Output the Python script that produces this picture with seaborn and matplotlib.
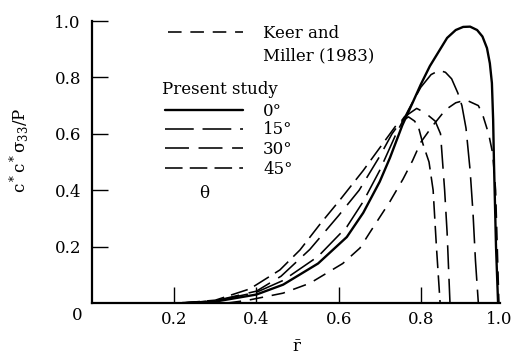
import matplotlib
matplotlib.use("Agg")
import matplotlib.pyplot as plt
import matplotlib.transforms as mtransforms
import seaborn as sns
import pandas as pd
from matplotlib.lines import Line2D

# ---- data ----
r_keer = [0.33, 0.38, 0.465, 0.53, 0.61, 0.652, 0.676, 0.725, 0.757, 0.78, 0.80, 0.827,
          0.86, 0.885, 0.91, 0.94, 0.95, 0.965, 0.975, 0.982, 0.986, 0.99]
s_keer = [0.0, 0.01, 0.035, 0.07, 0.14, 0.195, 0.25, 0.36, 0.44, 0.505, 0.57, 0.625,
          0.685, 0.71, 0.72, 0.70, 0.67, 0.60, 0.53, 0.40, 0.20, 0.0]

r_0 = [0.22, 0.30, 0.40, 0.465, 0.55, 0.62, 0.66, 0.70, 0.725, 0.755, 0.78, 0.80, 0.822,
       0.864, 0.885, 0.903, 0.92, 0.937, 0.95, 0.961, 0.968, 0.973, 0.976, 0.978, 0.983, 0.988]
s_0 = [0.0, 0.005, 0.03, 0.065, 0.14, 0.234, 0.32, 0.43, 0.515, 0.63, 0.71, 0.775, 0.84,
       0.94, 0.968, 0.979, 0.98, 0.968, 0.945, 0.904, 0.85, 0.78, 0.65, 0.50, 0.20, 0.0]

r_15 = [0.22, 0.30, 0.40, 0.465, 0.55, 0.62, 0.66, 0.70, 0.74, 0.77, 0.80, 0.825, 0.845,
        0.86, 0.875, 0.89, 0.90, 0.91, 0.92, 0.927, 0.933, 0.94]
s_15 = [0.0, 0.007, 0.038, 0.08, 0.165, 0.27, 0.36, 0.47, 0.60, 0.685, 0.765, 0.81, 0.825,
        0.818, 0.795, 0.745, 0.70, 0.62, 0.47, 0.32, 0.15, 0.0]

r_30 = [0.22, 0.30, 0.40, 0.46, 0.53, 0.60, 0.65, 0.70, 0.73, 0.76, 0.79, 0.81, 0.835,
        0.848, 0.853, 0.858, 0.864, 0.871]
s_30 = [0.0, 0.008, 0.042, 0.095, 0.19, 0.31, 0.40, 0.52, 0.60, 0.66, 0.69, 0.675, 0.645,
        0.60, 0.50, 0.40, 0.25, 0.0]

r_45 = [0.22, 0.30, 0.384, 0.457, 0.506, 0.555, 0.603, 0.66, 0.70, 0.74, 0.77, 0.785,
        0.795, 0.805, 0.82, 0.83, 0.838, 0.847]
s_45 = [0.0, 0.01, 0.05, 0.117, 0.188, 0.28, 0.365, 0.47, 0.55, 0.63, 0.66, 0.645,
        0.62, 0.565, 0.50, 0.40, 0.20, 0.0]

x_ticks = [0.2, 0.4, 0.6, 0.8, 1.0]
x_ticklabels = ["0.2", "0.4", "0.6", "0.8", "1.0"]
y_ticks = [0.2, 0.4, 0.6, 0.8, 1.0]
y_ticklabels = ["0.2", "0.4", "0.6", "0.8", "1.0"]

series_labels = ["0°", "15°", "30°", "45°"]

# ---- style ----
sns.set_theme(style="white")
plt.rcParams["font.family"] = ["DejaVu Serif"]
plt.rcParams["mathtext.fontset"] = "dejavuserif"

FS = 12
styles = {
    "keer": dict(lw=1.15, ls=(0, (8.5, 5.5))),
    "0°": dict(lw=1.7, ls="-"),
    "15°": dict(lw=1.15, ls=(0, (18, 5.5))),
    "30°": dict(lw=1.15, ls=(0, (15, 6))),
    "45°": dict(lw=1.15, ls=(0, (11, 4.5))),
}

fig = plt.figure(figsize=(5.14, 3.60), dpi=100)
ax = fig.add_axes([92 / 514, 57 / 360, 411 / 514, 282 / 360])

curves = [
    ("keer", r_keer, s_keer),
    ("0°", r_0, s_0),
    ("15°", r_15, s_15),
    ("30°", r_30, s_30),
    ("45°", r_45, s_45),
]
for name, xs, ys in curves:
    df = pd.DataFrame({"r": xs, "s": ys})
    st = styles[name]
    sns.lineplot(data=df, x="r", y="s", sort=False, estimator=None, ax=ax,
                 color="black", linewidth=st["lw"], linestyle=st["ls"])

ax.set_xlim(0, 1.0)
ax.set_ylim(0, 1.0)
ax.spines["top"].set_visible(False)
ax.spines["right"].set_visible(False)
ax.spines["bottom"].set_bounds(0, 0.993)
for sp in ("left", "bottom"):
    ax.spines[sp].set_linewidth(1.6)
    ax.spines[sp].set_color("black")

ax.set_xticks(x_ticks)
ax.set_xticklabels(x_ticklabels, fontsize=FS)
ax.set_yticks(y_ticks)
ax.set_yticklabels(y_ticklabels, fontsize=FS)
ax.tick_params(axis="both", which="major", direction="in", length=11.5, width=1.0,
               color="black", labelcolor="black", bottom=True, left=True,
               top=False, right=False)
ax.tick_params(axis="y", pad=8)
ax.tick_params(axis="x", pad=6)
ax.xaxis.get_major_ticks()[-1].tick1line.set_visible(False)
# nudge the last x label a little so it stays inside the figure
lbl = ax.get_xticklabels()[-1]
lbl.set_transform(lbl.get_transform() +
                  mtransforms.ScaledTranslation(-4 / 100, 0, fig.dpi_scale_trans))
ax.set_xlabel("")
ax.set_ylabel("")

# corner zero label
ax.text(-15 / 411, -12 / 282, "0", transform=ax.transAxes, ha="center", va="center",
        fontsize=FS, color="black")

# axis labels
fig.text(19 / 514, 1 - 150 / 360, r"$\mathregular{c^*c^*\sigma_{33}/P}$", rotation=90,
         ha="center", va="center", fontsize=FS, color="black")
fig.text(297 / 514, 1 - 347 / 360, r"$\bar{\mathrm{r}}$", ha="center", va="center",
         fontsize=FS, color="black")

# ---- legend drawn manually ----
def ax_x(px):
    return (px - 92) / 411


def ax_y(py):
    return (303 - py) / 282


def leg_line(x0, x1, y, st):
    ax.add_line(Line2D([ax_x(x0), ax_x(x1)], [ax_y(y), ax_y(y)], transform=ax.transAxes,
                       color="black", lw=st["lw"], ls=st["ls"]))


leg_line(168, 243, 32, styles["keer"])
ax.text(ax_x(263), ax_y(33), "Keer and", transform=ax.transAxes, ha="left", va="center",
        fontsize=FS, color="black")
ax.text(ax_x(263), ax_y(56), "Miller (1983)", transform=ax.transAxes, ha="left",
        va="center", fontsize=FS, color="black")
ax.text(ax_x(162), ax_y(89), "Present study", transform=ax.transAxes, ha="left",
        va="center", fontsize=FS, color="black")

leg_y = [110, 129, 148, 168]
for lab, yy in zip(series_labels, leg_y):
    leg_line(165, 243, yy, styles[lab])
    ax.text(ax_x(263), ax_y(yy + 1), lab, transform=ax.transAxes, ha="left",
            va="center", fontsize=FS, color="black")

ax.text(ax_x(204), ax_y(194), "θ", transform=ax.transAxes, ha="center", va="center",
        fontsize=FS, color="black")

fig.savefig("out.png", dpi=100)
